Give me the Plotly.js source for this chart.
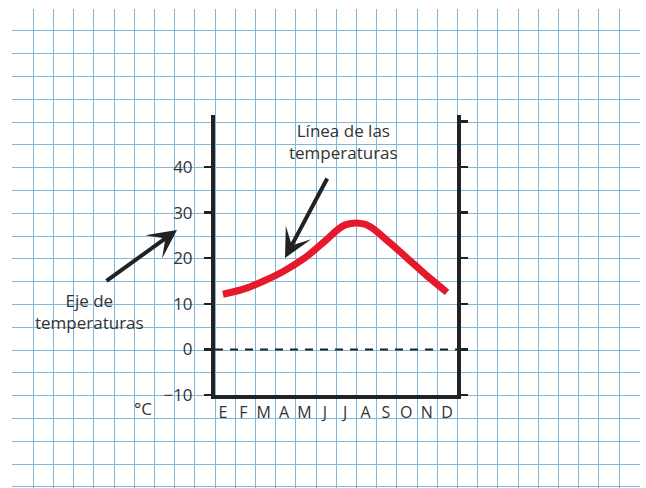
<!DOCTYPE html>
<html>
<head>
<meta charset="utf-8">
<script src="https://cdn.plot.ly/plotly-3.0.1.min.js"></script>
<style>html,body{margin:0;padding:0;background:#fff;}#chart{width:646px;height:488px;}
.gridlayer path{shape-rendering:crispEdges;}</style>
</head>
<body>
<div id="chart"></div>
<script>
// Data
var months = ['E','F','M','A','M','J','J','A','S','O','N','D'];
var monthIndex = [0,1,2,3,4,5,6,7,8,9,10,11];
var temperatures = [12.1, 13.2, 15.0, 17.2, 20.0, 23.7, 27.3, 27.4, 24.1, 20.2, 16.2, 12.5];
var yTickVals = [-10, 0, 10, 20, 30, 40];
var yTickText = ['\u221210', '0', '10', '20', '30', '40'];
var rightTickVals = [-10, 0, 10, 20, 30, 40, 50];
var zeroLevel = 0;

var W = 646, H = 488;
var txt = '#333333';
var fontFam = '"Open Sans", "Noto Sans", sans-serif';

var traces = [
  {x: [], y: [], xaxis: 'x', yaxis: 'y', type: 'scatter', hoverinfo: 'skip', showlegend: false},
  {x: [], y: [], xaxis: 'x2', yaxis: 'y3', type: 'scatter', hoverinfo: 'skip', showlegend: false},
  {
    x: monthIndex, y: temperatures, xaxis: 'x2', yaxis: 'y2',
    type: 'scatter', mode: 'lines',
    line: {color: '#e6192b', width: 7, shape: 'spline', smoothing: 1},
    hoverinfo: 'skip', showlegend: false
  }
];

var gridColor = '#7fb8d8';
var layout = {
  width: W, height: H,
  margin: {l: 0, r: 0, t: 0, b: 0, pad: 0},
  paper_bgcolor: '#ffffff',
  plot_bgcolor: 'rgba(0,0,0,0)',
  showlegend: false,
  font: {family: fontFam, color: txt, size: 17},
  // graph-paper background
  xaxis: {
    domain: [12 / W, 640 / W], range: [12, 640], anchor: 'y',
    tick0: 215, dtick: 20.2, showgrid: true, gridcolor: gridColor, gridwidth: 1,
    showticklabels: false, ticks: '', zeroline: false, showline: false, fixedrange: true
  },
  yaxis: {
    domain: [0, 479 / H], range: [488, 9], anchor: 'x',
    tick0: 350, dtick: 22.8, showgrid: true, gridcolor: gridColor, gridwidth: 1,
    showticklabels: false, ticks: '', zeroline: false, showline: false, fixedrange: true
  },
  // chart axes
  xaxis2: {
    domain: [215 / W, 457 / W], range: [-0.39, 11.49], anchor: 'y2',
    tickmode: 'array', tickvals: monthIndex, ticktext: months,
    ticks: '', showgrid: false, zeroline: false,
    showline: true, linewidth: 4, linecolor: '#222222',
    tickfont: {family: fontFam, size: 16, color: txt},
    ticklabelstandoff: 0
  },
  yaxis2: {
    domain: [(H - 395) / H, (H - 115) / H], range: [-10, 51.4], anchor: 'x2',
    tickmode: 'array', tickvals: yTickVals, ticktext: yTickText,
    ticks: 'outside', ticklen: 7, tickwidth: 2.5, tickcolor: '#222222',
    showgrid: false, zeroline: false,
    showline: true, linewidth: 4, linecolor: '#222222',
    tickfont: {family: fontFam, size: 17, color: txt},
    ticklabelstandoff: 8
  },
  yaxis3: {
    overlaying: 'y2', side: 'right', anchor: 'x2', range: [-10, 51.4],
    tickmode: 'array', tickvals: rightTickVals, showticklabels: false,
    ticks: 'outside', ticklen: 7, tickwidth: 2.5, tickcolor: '#222222',
    showgrid: false, zeroline: false,
    showline: true, linewidth: 4, linecolor: '#222222'
  },
  shapes: [
    {type: 'line', xref: 'x2 domain', x0: 0, x1: 1, yref: 'y2', y0: zeroLevel, y1: zeroLevel,
     line: {color: '#222222', width: 2, dash: '8px,7px'}}
  ],
  annotations: [
    {text: 'Línea de las<br>temperaturas', xref: 'paper', yref: 'paper',
     x: 343 / W, y: 1 - 141.5 / H, xanchor: 'center', yanchor: 'middle',
     showarrow: false, font: {family: fontFam, size: 17, color: txt}},
    {text: 'Eje de<br>temperaturas', xref: 'paper', yref: 'paper',
     x: 89 / W, y: 1 - 311 / H, xanchor: 'center', yanchor: 'middle',
     showarrow: false, font: {family: fontFam, size: 17, color: txt}},
    {text: '°C', xref: 'paper', yref: 'paper',
     x: 143 / W, y: 1 - 408 / H, xanchor: 'center', yanchor: 'middle',
     showarrow: false, font: {family: fontFam, size: 17, color: txt}},
    {text: '', xref: 'paper', yref: 'paper', x: 285 / W, y: 1 - 258 / H,
     showarrow: true, axref: 'pixel', ayref: 'pixel', ax: 43, ay: -81,
     arrowhead: 3, arrowsize: 1.2, arrowwidth: 4, arrowcolor: '#222222', standoff: 0},
    {text: '', xref: 'paper', yref: 'paper', x: 177 / W, y: 1 - 230 / H,
     showarrow: true, axref: 'pixel', ayref: 'pixel', ax: -72, ay: 52,
     arrowhead: 3, arrowsize: 1.2, arrowwidth: 4, arrowcolor: '#222222', standoff: 0}
  ]
};

Plotly.newPlot('chart', traces, layout, {staticPlot: true, displayModeBar: false});
</script>
</body>
</html>
